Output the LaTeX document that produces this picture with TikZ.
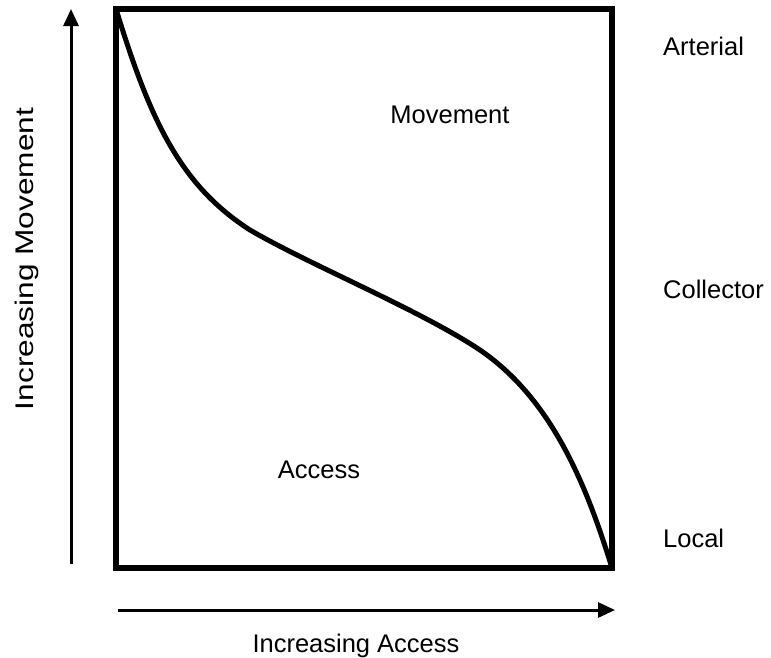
\documentclass[tikz,border=0pt]{standalone}
\usepackage{fontspec}
\setmainfont{Liberation Sans}
\usetikzlibrary{arrows.meta}

\begin{document}
\begin{tikzpicture}[x=1pt,y=-1pt,
    lbl/.style={font=\fontsize{25.5}{30}\selectfont,inner sep=0pt},
    axis/.style={line width=3pt,-{Triangle[length=17pt,width=15pt]}}]
  \useasboundingbox (0,0) rectangle (771,657);

  % frame and the movement/access split
  \coordinate (tl) at (116,9);
  \coordinate (br) at (612,568);
  \draw[line width=6pt] (tl) rectangle (br);
  \draw[line width=5pt] (tl) .. controls (150,120) and (180,185) .. (250,230)
        .. controls (310,265) and (420,310) .. (480,350)
        .. controls (550,398) and (585,480) .. (br);

  % axes
  \coordinate (vs) at (71,564);
  \coordinate (ve) at (71,9);
  \draw[axis] (vs) -- (ve);
  \coordinate (hs) at (118,610);
  \coordinate (he) at (615,610);
  \draw[axis] (hs) -- (he);

  \node[lbl,anchor=base] (movement) at (450,123) {Movement};
  \node[lbl,anchor=base] (access) at (319,478) {Access};
  \node[lbl,anchor=base west] (arterial) at (663,55) {Arterial};
  \node[lbl,anchor=base west] (collector) at (663,298) {Collector};
  \node[lbl,anchor=base west] (local) at (663,547) {Local};
  \node[lbl,anchor=base] (incacc) at (356,652) {Increasing Access};
  \node[lbl,anchor=base,rotate=90] (incmov) at (33,259)
       {\scalebox{1.24}[1]{Increasing Movement}};
\end{tikzpicture}
\end{document}
